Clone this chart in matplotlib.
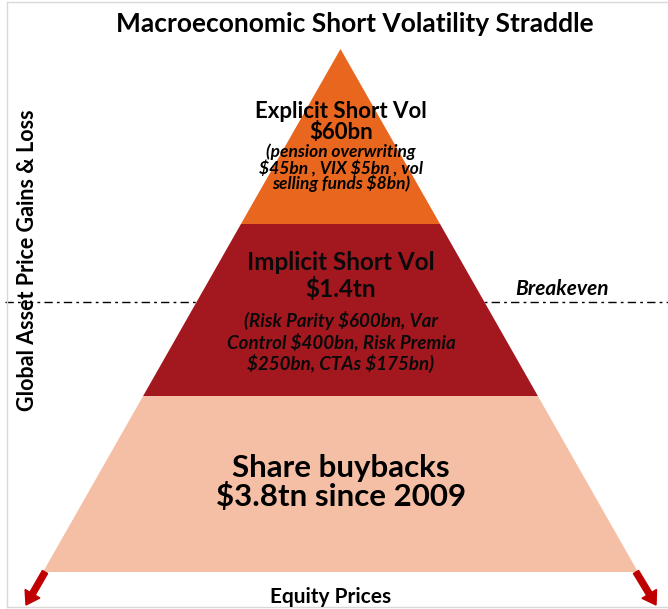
import matplotlib
matplotlib.use("Agg")
import matplotlib.pyplot as plt
from matplotlib.patches import Polygon, FancyArrow

plt.rcParams['font.family'] = ['Lato', 'DejaVu Sans']

# pyramid tiers, top to bottom (y in pixels from top)
tier_bounds = [49, 224, 396, 572]
tier_colors = ['#E8661E', '#A3171F', '#F5BFA5']
tier_titles = ['Explicit Short Vol\n\\$60bn', 'Implicit Short Vol\n\\$1.4tn', 'Share buybacks\n\\$3.8tn since 2009']
tier_notes = ['(pension overwriting\n\\$45bn , VIX \\$5bn , vol\nselling funds \\$8bn)',
              '(Risk Parity \\$600bn, Var\nControl \\$400bn, Risk Premia\n\\$250bn, CTAs \\$175bn)',
              '']
breakeven_y = 302

W, H = 668, 609
cx = 340.5
base_half = 297.5
apex, base = tier_bounds[0], tier_bounds[-1]


def half_width(y):
    return (y - apex) / (base - apex) * base_half


fig = plt.figure(figsize=(W / 100, H / 100), dpi=100)
ax = fig.add_axes([0, 0, 1, 1])
ax.set_xlim(0, W)
ax.set_ylim(H, 0)
ax.axis('off')

# light frame
ax.plot([7, 7], [2, 607], color='#D9D9D9', lw=1)
ax.plot([7, W], [2, 2], color='#D9D9D9', lw=1)
ax.plot([7, W], [607, 607], color='#D9D9D9', lw=1)

# breakeven line
ax.plot([5, W], [breakeven_y, breakeven_y], color='black', lw=1, dashes=(6, 3, 2, 3), zorder=1)
ax.text(562, 289, 'Breakeven', ha='center', va='center', fontsize=15,
        fontweight='bold', style='italic')

for i in range(3):
    y0, y1 = tier_bounds[i], tier_bounds[i + 1]
    pts = [(cx - half_width(y0), y0), (cx + half_width(y0), y0),
           (cx + half_width(y1), y1), (cx - half_width(y1), y1)]
    ax.add_patch(Polygon(pts, closed=True, facecolor=tier_colors[i], edgecolor='none', zorder=2))

# tier texts
ax.text(341, 122, tier_titles[0], ha='center', va='center', fontsize=16,
        fontweight='bold', linespacing=0.95, zorder=3)
ax.text(341, 168, tier_notes[0], ha='center', va='center', fontsize=12.5,
        fontweight='bold', style='italic', linespacing=0.9, zorder=3)
ax.text(341, 276, tier_titles[1], ha='center', va='center', fontsize=17.5,
        fontweight='bold', linespacing=1.1, zorder=3, color='#0a0a0a')
ax.text(341, 342, tier_notes[1], ha='center', va='center', fontsize=13.5,
        fontweight='bold', style='italic', linespacing=1.15, zorder=3, color='#0a0a0a')
ax.text(341, 482, tier_titles[2], ha='center', va='center', fontsize=22.5,
        fontweight='bold', linespacing=1.0, zorder=3)

# arrows from base corners
ax.add_patch(FancyArrow(cx - base_half + 2, base, -19, 33, width=6, head_width=17,
                        head_length=13, length_includes_head=True,
                        color='#C00000', zorder=3))
ax.add_patch(FancyArrow(cx + base_half - 2, base, 20, 33, width=6, head_width=17,
                        head_length=13, length_includes_head=True,
                        color='#C00000', zorder=3))

ax.text(355, 24, 'Macroeconomic Short Volatility Straddle', ha='center', va='center',
        fontsize=19, fontweight='bold')
ax.text(331, 597, 'Equity Prices', ha='center', va='center', fontsize=15,
        fontweight='bold')
ax.text(28, 260, 'Global Asset Price Gains & Loss', ha='center', va='center',
        rotation=90, fontsize=15.5, fontweight='bold')

fig.savefig('out.png', dpi=100)
